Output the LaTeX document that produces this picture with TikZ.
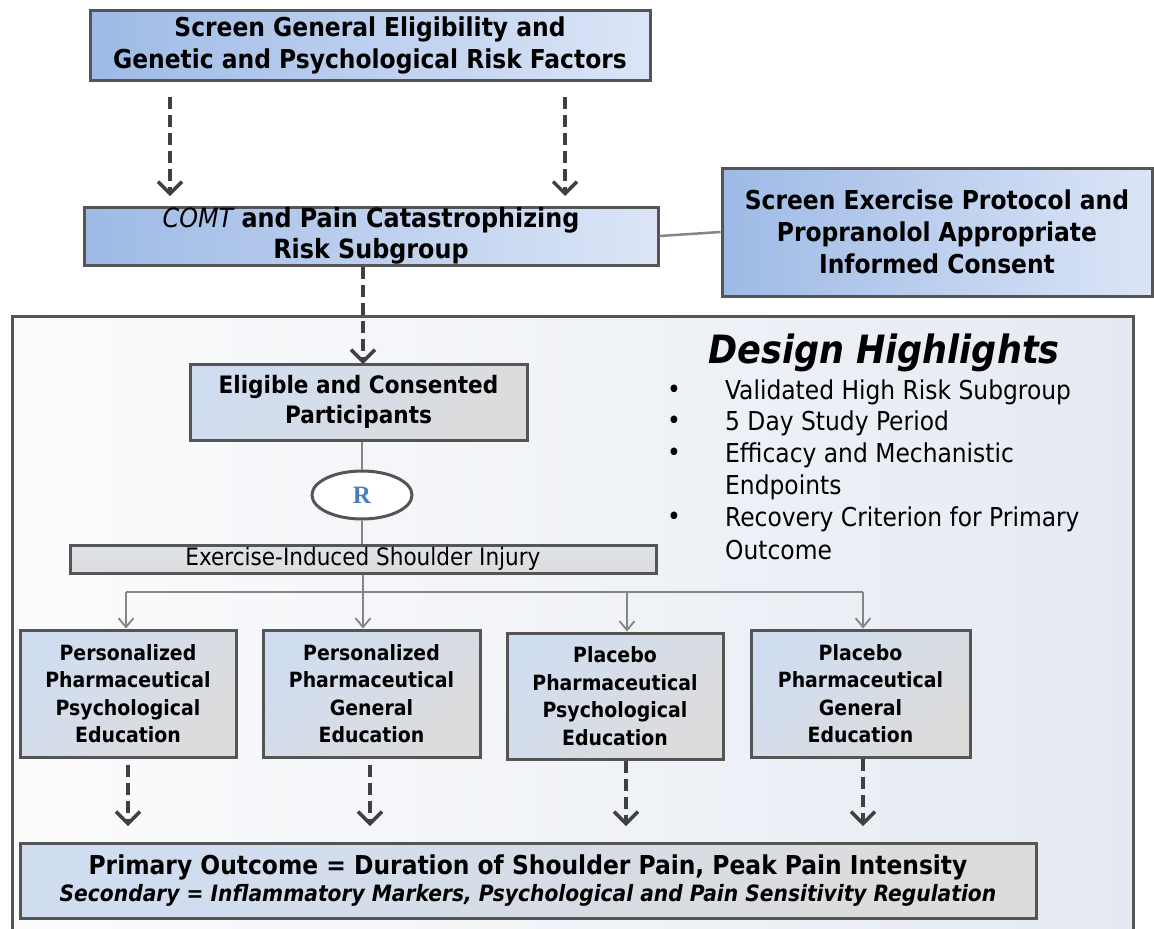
\documentclass[tikz,border=0pt]{standalone}
\usepackage{fontspec}
\setmainfont{DejaVu Sans Condensed}
\newfontfamily\rfont{Liberation Serif}
\usetikzlibrary{arrows.meta,shapes.geometric}
\definecolor{bord}{HTML}{555555}
\definecolor{blueL}{HTML}{9DBAE5}
\definecolor{blueR}{HTML}{DCE5F7}
\definecolor{tlblue}{HTML}{D0DDF0}
\definecolor{gmid}{HTML}{E8E8E8}
\definecolor{gbot}{HTML}{DCDCDC}
\definecolor{bgL}{HTML}{FCFCFD}
\definecolor{bgR}{HTML}{E5EAF2}
\definecolor{arrgray}{HTML}{404040}
\definecolor{lgray}{HTML}{858585}
\definecolor{rblue}{HTML}{4A7EBB}
\tikzset{
  bluebox/.style={draw=bord, line width=3pt, left color=blueL, right color=blueR,
    align=center, inner sep=0pt, font=\bfseries\fontsize{26}{32}\selectfont},
  graybox/.style={draw=bord, line width=3pt, top color=tlblue, middle color=gmid,
    bottom color=gbot, shading angle=45, align=center, inner sep=0pt,
    font=\bfseries\fontsize{21}{27.5}\selectfont},
  darr/.style={draw=arrgray, line width=4pt, dash pattern=on 12pt off 6pt,
    -{Straight Barb[length=12pt,width=24pt,line width=3.5pt]}},
  tarr/.style={draw=lgray, line width=2pt,
    -{Straight Barb[length=9pt,width=15pt,line width=1.8pt]}},
  tline/.style={draw=lgray, line width=2.5pt},
  bul/.style={anchor=west, inner sep=0pt, font=\fontsize{26}{30}\selectfont},
}
\begin{document}
\begin{tikzpicture}[x=1pt,y=-1pt]
\useasboundingbox (0,0) rectangle (1154,929);
% big background box
\path[draw=bord, line width=3pt, left color=bgL, right color=bgR] (12,316) rectangle (1133,945);
% top boxes
\node[bluebox, minimum width=560pt, minimum height=70pt] (top) at (370,45)
  {Screen General Eligibility and\\Genetic and Psychological Risk Factors};
\node[bluebox, minimum width=574pt, minimum height=58pt, font=\bfseries\fontsize{26.5}{31}\selectfont] (comt) at (371,236)
  {{\mdseries\itshape COMT} and Pain Catastrophizing\\Risk Subgroup};
\node[bluebox, minimum width=430pt, minimum height=128pt] (scr) at (937,232)
  {Screen Exercise Protocol and\\Propranolol Appropriate\\Informed Consent};
\draw[tline] (comt.east) -- (scr.west);
% dashed arrows from top box
\coordinate (t1s) at (170,97);
\coordinate (t1e) at (170,196);
\coordinate (t2s) at (565,97);
\coordinate (t2e) at (565,196);
\draw[darr] (t1s) -- (t1e);
\draw[darr] (t2s) -- (t2e);
% eligible
\node[graybox, minimum width=337pt, minimum height=76pt, font=\bfseries\fontsize{24}{30}\selectfont] (elig) at (358.5,402)
  {Eligible and Consented\\Participants};
\coordinate (ce) at (363,364);
\draw[darr] (comt.south -| ce) -- (ce);
% R ellipse
\node[ellipse, draw=bord, line width=3pt, fill=white, minimum width=100pt, minimum height=48pt,
  inner sep=0pt, font=\rfont\bfseries\fontsize{25}{25}\selectfont, text=rblue] (R) at (362,495) {R};
\draw[tline] (elig.south -| R) -- (R.north);
% bar
\node[graybox, top color=gmid!60!tlblue, minimum width=586pt, minimum height=28pt, font=\fontsize{24}{24}\selectfont] (bar) at (363,559)
  {Exercise-Induced Shoulder Injury};
\draw[tline] (R.south) -- (R.south |- bar.north);
% branch
\coordinate (br1) at (126,592);
\coordinate (br2) at (363,592);
\coordinate (br3) at (627,592);
\coordinate (br4) at (863,592);
\draw[tline] (br1) -- (br4);
\draw[tline] (bar.south -| br2) -- (br2);
% four arm boxes
\node[graybox, minimum width=216pt, minimum height=127pt] (b1) at (128,693.5)
  {Personalized\\Pharmaceutical\\Psychological\\Education};
\node[graybox, minimum width=217pt, minimum height=127pt] (b2) at (371.5,693.5)
  {Personalized\\Pharmaceutical\\General\\Education};
\node[graybox, minimum width=216pt, minimum height=126pt] (b3) at (615,696)
  {Placebo\\Pharmaceutical\\Psychological\\Education};
\node[graybox, minimum width=219pt, minimum height=127pt] (b4) at (860.5,693.5)
  {Placebo\\Pharmaceutical\\General\\Education};
\draw[tarr] (br1) -- (br1 |- b1.north);
\draw[tarr] (br2) -- (br2 |- b2.north);
\draw[tarr] (br3) -- (br3 |- b3.north);
\draw[tarr] (br4) -- (br4 |- b4.north);
% bottom outcome box
\node[graybox, minimum width=1016pt, minimum height=75pt, font=\fontsize{26}{30}\selectfont] (out) at (528,880.5)
  {\textbf{Primary Outcome = Duration of Shoulder Pain, Peak Pain Intensity}\\[-3pt]
   {\bfseries\itshape\fontsize{22.5}{24}\selectfont Secondary = Inflammatory Markers, Psychological and Pain Sensitivity Regulation}};
\coordinate (d1) at (128,826);
\coordinate (d2) at (370,826);
\coordinate (d3) at (626,826);
\coordinate (d4) at (863,826);
\draw[darr] ([yshift=-6pt]b1.south -| d1) -- (d1);
\draw[darr] ([yshift=-6pt]b2.south -| d2) -- (d2);
\draw[darr] (b3.south -| d3) -- (d3);
\draw[darr] (b4.south -| d4) -- (d4);
% design highlights
\node[font=\bfseries\itshape\fontsize{39}{39}\selectfont, inner sep=0pt] (dh) at (884,353) {Design Highlights};
\node[bul] (k1) at (667,392) {\textbullet};
\node[bul] (k2) at (667,423) {\textbullet};
\node[bul] (k3) at (667,455) {\textbullet};
\node[bul] (k4) at (667,519) {\textbullet};
\node[bul] (h1) at (725,392) {Validated High Risk Subgroup};
\node[bul] (h2) at (725,423) {5 Day Study Period};
\node[bul] (h3) at (725,455) {Efficacy and Mechanistic};
\node[bul] (h3b) at (725,487) {Endpoints};
\node[bul] (h4) at (725,519) {Recovery Criterion for Primary};
\node[bul] (h4b) at (725,550) {Outcome};
\end{tikzpicture}
\end{document}
